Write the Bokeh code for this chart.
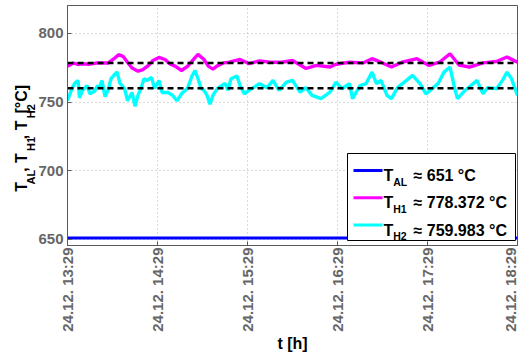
from math import pi
from bokeh.plotting import figure
from bokeh.models import FixedTicker, Label, BoxAnnotation, Range1d, LinearAxis
from bokeh.embed import file_html
from bokeh.resources import INLINE

# ---------------- data ----------------
tick_minutes = [0, 60, 120, 180, 240, 300]
tick_labels = ["24.12. 13:29", "24.12. 14:29", "24.12. 15:29",
               "24.12. 16:29", "24.12. 17:29", "24.12. 18:29"]
y_ticks = [650, 700, 750, 800]

al_minutes = [0, 300]
al_values = [651, 651]

h1_minutes = [0, 1, 4, 7, 11, 14, 19, 23, 27, 31,
              34, 37, 40, 43, 47, 50, 54, 57, 61, 65,
              68, 72, 76, 80, 84, 87, 91, 94, 97, 100,
              104, 108, 111, 115, 118, 121, 128, 135, 143, 150,
              159, 166, 175, 179, 188, 197, 203, 210, 216, 223,
              233, 241, 248, 255, 261, 268, 277, 286, 293, 300]
h1_values = [776, 776.7, 778.4, 777.4, 777.9, 777.4, 778.4, 778.4, 778.4, 781.6,
             784.5, 783.3, 779, 774.8, 772.5, 773.5, 776.7, 780.3, 782.5, 781,
             778, 776, 773, 776, 781, 784.7, 781, 776, 774, 776.5,
             778.5, 779, 780, 781, 779.5, 778, 780, 779, 779, 780.3,
             774.5, 776.7, 775.5, 777.5, 779, 778.5, 781.6, 778.5, 775.5, 779,
             781.6, 776.7, 779, 785.2, 777, 775.5, 778.5, 779.5, 782.8, 779]

h2_minutes = [0, 3, 5, 7, 8, 10, 13, 15, 18, 20,
              21, 23, 25, 27, 29, 33, 35, 38, 40, 43,
              45, 47, 49, 51, 53, 56, 58, 61, 63, 67,
              70, 73, 76, 80, 83, 85, 87, 89, 91, 93,
              95, 97, 100, 105, 107, 109, 113, 115, 118,
              121, 128, 133, 137, 141, 146, 150, 155, 159, 163,
              169, 175, 179, 183, 188, 190, 195, 199, 203, 206,
              209, 213, 216, 220, 226, 230, 235, 239, 243, 247,
              251, 255, 258, 260, 265, 269, 273, 277, 280, 286,
              290, 293, 296, 300]
h2_values = [751, 760, 764, 765.7, 753, 758.5, 762, 756, 757.8, 762,
             760, 765.7, 754, 758.5, 767, 772, 763.6, 760, 751, 757,
             747, 755, 760, 767, 765.7, 768, 760, 765.7, 757, 757,
             755, 751, 756, 760, 769, 773, 767, 760, 758.5, 755,
             748.5, 755, 760, 763.6, 758.5, 767, 769, 762, 756,
             758.5, 763.4, 760.5, 765.8, 758.5, 764.6, 765.8, 757.3, 760.5, 754.9,
             752.5, 757.3, 764.6, 759.7, 763.4, 752.5, 762, 763.4, 771.8, 763.4,
             765.8, 754.9, 752.5, 760.5, 765.8, 769.4, 763.4, 756, 759.7, 763.4,
             771.8, 775.5, 760.5, 752.5, 758.5, 762, 765.8, 756, 760.5, 759.7,
             765.8, 771.8, 767, 754.9]

al_mean = 651
h1_mean = 778.372
h2_mean = 759.983

# y-axis title pieces: (text, is_subscript)
ytitle_pieces = [("T", 0), ("AL", 1), (", T", 0), ("H1", 1),
                 (", T", 0), ("H2", 1), (" [°C]", 0)]

# ---------------- layout constants ----------------
FONT = "Liberation Sans"
TOTAL_W, TOTAL_H = 518, 356
FRAME_L, FRAME_T, FRAME_W, FRAME_H = 67, 5, 450, 240
FRAME_B = FRAME_T + FRAME_H
Y_LO, Y_HI = 645.6, 820.3
MAIN_FS, SUB_FS = 16, 11

W = {"T": .611, "A": .722, "L": .611, "H": .722, "1": .556, "2": .556,
     ",": .278, " ": .278, "[": .333, "°": .4, "C": .722, "]": .333}

def tw(s, fs):
    return sum(W.get(c, .556) for c in s) * fs

def make_label(text, sx, sy, fs, align="left", color="black"):
    return Label(x=sx, y=sy, x_units="screen", y_units="screen",
                 text=text, text_align=align,
                 text_baseline="alphabetic", text_font=FONT,
                 text_font_style="bold", text_font_size=f"{fs}px",
                 text_color=color)

# ---------------- main figure ----------------
p = figure(frame_width=FRAME_W, frame_height=FRAME_H,
           min_border_left=FRAME_L, min_border_right=1,
           min_border_top=FRAME_T, min_border_bottom=TOTAL_H - FRAME_B,
           x_range=Range1d(tick_minutes[0], tick_minutes[-1]),
           y_range=Range1d(Y_LO, Y_HI),
           output_backend="svg", toolbar_location=None)
p.background_fill_color = "white"
p.border_fill_color = "white"
p.outline_line_color = "#5a5a5a"
p.outline_line_width = 1

for ax in (p.xaxis[0], p.yaxis[0]):
    ax.axis_line_color = "#5a5a5a"
    ax.major_tick_line_color = "#5a5a5a"
    ax.major_tick_in = 4
    ax.major_tick_out = 0
    ax.minor_tick_line_color = None
    ax.major_label_text_font = FONT
    ax.major_label_text_font_style = "bold"
    ax.major_label_text_font_size = "15px"
    ax.major_label_text_color = "#666666"

p.xaxis[0].ticker = FixedTicker(ticks=tick_minutes)
p.xaxis[0].major_label_overrides = {t: l for t, l in zip(tick_minutes, tick_labels)}
p.xaxis[0].major_label_orientation = pi / 2
p.xaxis[0].major_label_standoff = 2
p.xaxis[0].axis_label = "t [h]"
p.xaxis[0].axis_label_text_font = FONT
p.xaxis[0].axis_label_text_font_style = "bold"
p.xaxis[0].axis_label_text_font_size = "16px"
p.xaxis[0].axis_label_text_color = "black"
p.xaxis[0].axis_label_standoff = 0
p.yaxis[0].ticker = FixedTicker(ticks=y_ticks)
p.yaxis[0].major_label_standoff = 4

p.grid.grid_line_color = "#b4b4b4"
p.grid.grid_line_dash = "1 3"
p.grid.grid_line_width = 1

# ---------------- y-axis title with subscripts: two label-only axes ----------------
def img_to_data_y(Y):
    return round(Y_HI - (Y - FRAME_T) * (Y_HI - Y_LO) / FRAME_H, 4)

total = sum(tw(s, SUB_FS if sub else MAIN_FS) for s, sub in ytitle_pieces)
Ycur = (FRAME_T + FRAME_B) / 2 + total / 2
main_ticks, main_over, sub_ticks, sub_over = [], {}, [], {}
for s, sub in ytitle_pieces:
    w = tw(s, SUB_FS if sub else MAIN_FS)
    c = img_to_data_y(Ycur - w / 2)
    if sub:
        sub_ticks.append(c)
        sub_over[c] = s
    else:
        main_ticks.append(c)
        main_over[c] = s
    Ycur -= w

def label_axis(ticks, over, fs, standoff):
    ax = LinearAxis(ticker=FixedTicker(ticks=ticks), major_label_overrides=over,
                    axis_line_color=None, major_tick_line_color=None,
                    minor_tick_line_color=None, major_tick_in=0, major_tick_out=0,
                    major_label_orientation=pi / 2, major_label_standoff=standoff,
                    major_label_text_font=FONT, major_label_text_font_style="bold",
                    major_label_text_font_size=f"{fs}px",
                    major_label_text_color="black")
    p.add_layout(ax, "left")

label_axis(sub_ticks, sub_over, SUB_FS, 4)
label_axis(main_ticks, main_over, MAIN_FS, -5)

# ---------------- series ----------------
p.line(al_minutes, al_values, line_color="#0000ff", line_width=3)
p.line(h1_minutes, h1_values, line_color="#ff00ff", line_width=3.4)
p.line(h2_minutes, h2_values, line_color="#00ffff", line_width=3.4)
span_x = [tick_minutes[0], tick_minutes[-1]]
p.line(span_x, [h1_mean, h1_mean], line_color="black", line_width=2.5, line_dash="6 4")
p.line(span_x, [h2_mean, h2_mean], line_color="black", line_width=2.5, line_dash="6 4")

# ---------------- legend (frame-relative screen units) ----------------
def fx(X):
    return X - FRAME_L

def fy(Y):
    return FRAME_B - Y

def sbox(l, r, t, b, **kw):
    return BoxAnnotation(left=fx(l), right=fx(r), top=fy(t), bottom=fy(b),
                         left_units="screen", right_units="screen",
                         top_units="screen", bottom_units="screen", **kw)

p.add_layout(sbox(347, 515, 153, 240, fill_color="white", fill_alpha=1.0,
                  line_color="black", line_width=1, line_alpha=1.0))
rows = [("#0000ff", "AL", al_mean), ("#ff00ff", "H1", h1_mean), ("#00ffff", "H2", h2_mean)]
for i, (col, sub, val) in enumerate(rows):
    base = 175 + i * 27.3
    p.add_layout(sbox(353, 382, base - 6.5, base - 3.5,
                      fill_color=col, fill_alpha=1.0, line_color=None))
    p.add_layout(make_label("T", fx(383), fy(base), 16))
    p.add_layout(make_label(sub, fx(383 + tw("T", 16)), fy(base + 6), 10.5))
    p.add_layout(make_label(f"≈ {val} °C", fx(413), fy(base), 16))

open("out.html", "w").write(file_html(p, INLINE))
